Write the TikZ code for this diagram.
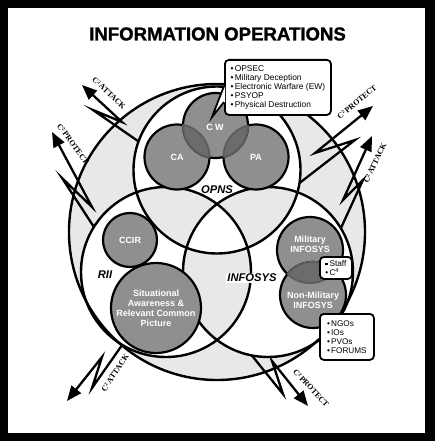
\documentclass[tikz,border=0pt]{standalone}
\usepackage{fontspec}
\setmainfont{Liberation Sans}
\newfontfamily\lserif{Liberation Serif}
\newfontfamily\titlefont{Liberation Sans}[FakeBold=1.3]
\usetikzlibrary{arrows.meta}
\definecolor{lightfill}{HTML}{E8E8E8}
\definecolor{midfill}{HTML}{8F8F8F}
\definecolor{darkfill}{HTML}{6C6C6C}
\definecolor{arcgray}{HTML}{5E5E5E}
\newcommand\bul{\textbullet\hspace{1.2pt}}
\newcommand\sqbul{\raisebox{1pt}{\rule{2.6pt}{2.6pt}}\hspace{1.6pt}}
\tikzset{
  bigc/.style={circle, draw=black, line width=2.4pt, inner sep=0pt, outer sep=0pt},
  subc/.style={circle, draw=black, fill=midfill, line width=2.2pt, inner sep=0pt, outer sep=0pt,
    text=white, font=\bfseries\fontsize{9}{10}\selectfont, align=center},
  vlabel/.style={font=\bfseries\itshape\fontsize{11.2}{12}\selectfont, inner sep=1pt},
  wlabel/.style={text=white, font=\bfseries\fontsize{9}{10}\selectfont, align=center},
  bolt/.style={line width=2.3pt, -{Triangle[length=15pt,width=12pt]}, line join=miter},
  boltlabel/.style={font=\lserif\bfseries\fontsize{8}{9}\selectfont, inner sep=0pt},
  listbox/.style={draw=black, fill=white, line width=1.8pt, rounded corners=4pt, align=left,
    font=\fontsize{8.4}{9.2}\selectfont, inner xsep=5pt, inner ysep=3pt, anchor=north west},
  innerarc/.style={draw=arcgray, line width=2pt},
  title/.style={font=\titlefont\bfseries\fontsize{18.6}{22}\selectfont}
}
\begin{document}
\begin{tikzpicture}[x=1pt,y=-1pt]
\useasboundingbox (0,0) rectangle (435,441);
\fill[black] (0,0) rectangle (435,441);
\fill[white] (8,8) rectangle (425,433);

\node[title] (ttl) at (217.5,34) {INFORMATION OPERATIONS};

% light grey background, even-odd over the big circles
\fill[lightfill, even odd rule] (217,232) circle[radius=148] (217,170) circle[radius=83.5]
  (166,272) circle[radius=85] (268,272) circle[radius=85];

\node[bigc, minimum size=296pt] (outer) at (217,232) {};
\node[bigc, minimum size=167pt] (opns) at (217,170) {};
\node[bigc, minimum size=170pt] (rii) at (166,272) {};
\node[bigc, minimum size=170pt] (infosys) at (268,272) {};

% OPNS sub circles
\node[subc, minimum size=65pt] (ca) at (177,157) {CA};
\node[subc, minimum size=65pt] (pa) at (256,157) {PA};
\node[subc, minimum size=65pt] (cw) at (215.5,125.5) {};
\begin{scope}
  \clip (215.5,125.5) circle[radius=32.5];
  \fill[darkfill] (177,157) circle[radius=32.5] (256,157) circle[radius=32.5];
  \draw[innerarc] (177,157) circle[radius=32.5] (256,157) circle[radius=32.5];
\end{scope}
\begin{scope}
  \clip (177,157) circle[radius=32.5] (256,157) circle[radius=32.5];
  \draw[innerarc] (215.5,125.5) circle[radius=32.5];
\end{scope}
\node[wlabel] (cwt) at (215,127) {C W};

% RII sub circles
\node[subc, minimum size=54pt] (ccir) at (130,240) {CCIR};
\node[subc, minimum size=90pt] (sa) at (156,308) {Situational\\Awareness \&\\Relevant Common\\Picture};

% INFOSYS sub circles
\node[subc, minimum size=66pt] (mil) at (310,250) {};
\node[subc, minimum size=66pt] (nonmil) at (313,295) {};
\begin{scope}
  \clip (313,295) circle[radius=33];
  \fill[darkfill] (310,250) circle[radius=33];
  \draw[innerarc] (310,250) circle[radius=33];
\end{scope}
\begin{scope}
  \clip (310,250) circle[radius=33];
  \draw[innerarc] (313,295) circle[radius=33];
\end{scope}
\node[wlabel] (milt) at (310,244.5) {Military\\INFOSYS};
\node[wlabel] (nonmilt) at (313,300) {Non-Military\\INFOSYS};

% venn labels
\node[vlabel] (opnst) at (217,190) {OPNS};
\node[vlabel] (riit) at (105,275) {RII};
\node[vlabel, fill=white] (infot) at (252,278) {INFOSYS};

% lightning arrows
\coordinate (a1j) at (93,110);  \coordinate (a1k) at (122,122); \coordinate (a1t) at (82,85);
\coordinate (a2j) at (62,178);  \coordinate (a2k) at (92,207);  \coordinate (a2t) at (52,132);
\coordinate (a3j) at (355,140); \coordinate (a3k) at (315,153); \coordinate (a3t) at (373,106);
\coordinate (a4j) at (363,180); \coordinate (a4k) at (343,200); \coordinate (a4t) at (372,136);
\coordinate (a5j) at (92,388);  \coordinate (a5k) at (102,357); \coordinate (a5t) at (67,401);
\coordinate (a6j) at (283,394); \coordinate (a6k) at (272,361); \coordinate (a6t) at (308,406);

\draw[bolt] (opns.160.7) -- (a1j) -- (a1k) -- (a1t);
\draw[bolt] (rii.148.9) -- (a2j) -- (a2k) -- (a2t);
\draw[bolt] (opns.-9.2) -- (a3j) -- (a3k) -- (a3t);
\draw[bolt] (infosys.31.1) -- (a4j) -- (a4k) -- (a4t);
\draw[bolt] (outer.230.1) -- (a5j) -- (a5k) -- (a5t);
\draw[bolt] (infosys.259.5) -- (a6j) -- (a6k) -- (a6t);

\node[boltlabel, rotate=-43] (l1) at (109,93) {C²\,ATTACK};
\node[boltlabel, rotate=-54] (l2) at (73,144) {C²\,PROTECT};
\node[boltlabel, rotate=39] (l3) at (357,102) {C²\,PROTECT};
\node[boltlabel, rotate=64] (l4) at (375,163) {C²\,ATTACK};
\node[boltlabel, rotate=56] (l5) at (115,373) {C²\,ATTACK};
\node[boltlabel, rotate=-47] (l6) at (311,388) {C²\,PROTECT};

% callout boxes
\node[listbox, minimum width=106pt, minimum height=55pt] (ops) at (224,59)
  {\bul OPSEC\\\bul Military Deception\\\bul Electronic Warfare (EW)\\\bul PSYOP\\\bul Physical Destruction};
\coordinate (tailtip) at (212,117);
\fill[white] (225,86) -- (tailtip) -- (225,102) -- cycle;
\draw[line width=1.8pt, line join=miter] (ops.west |- 0,86) -- (tailtip) -- (ops.west |- 0,102);

\node[listbox, minimum width=32pt, minimum height=22pt, inner xsep=4pt, font=\fontsize{8.2}{9}\selectfont] (staff) at (319,256)
  {\sqbul Staff\\\bul C\textsuperscript{4}};
\node[listbox, minimum width=54pt, minimum height=46pt, inner xsep=4pt, font=\fontsize{8.2}{9}\selectfont] (ngo) at (319,313)
  {\bul NGOs\\\bul IOs\\\bul PVOs\\\bul FORUMS};
\end{tikzpicture}
\end{document}
